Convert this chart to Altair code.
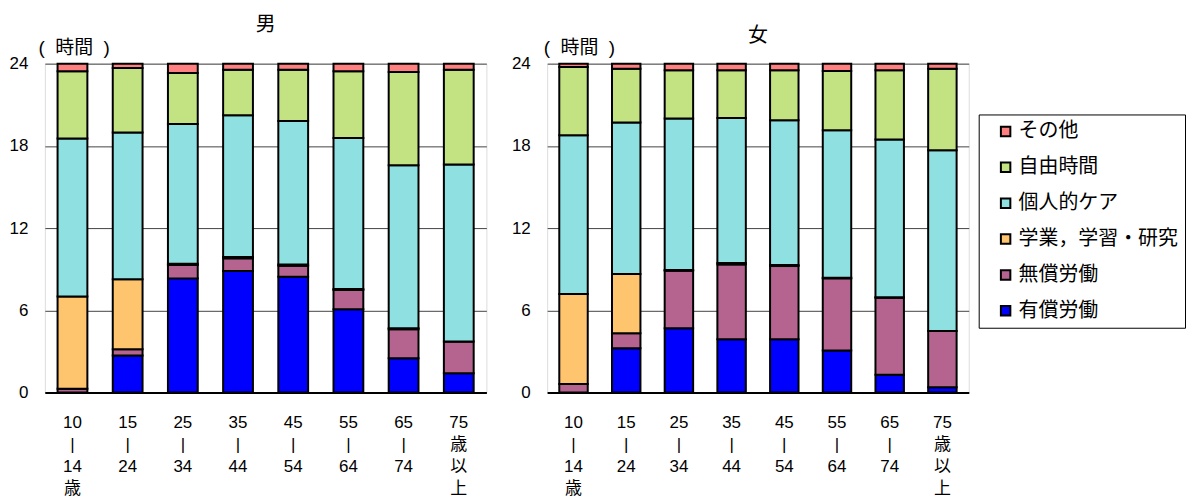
import altair as alt
import pandas as pd

# age-group tick labels (lines separated by "/")
ages = ["10/|/14/歳", "15/|/24", "25/|/34", "35/|/44", "45/|/54", "55/|/64", "65/|/74", "75/歳/以/上"]

# series, stacked from the bottom up
series = ["有償労働", "無償労働", "学業，学習・研究", "個人的ケア", "自由時間", "その他"]
colors = ["#0000FF", "#B4648F", "#FFC46E", "#8FE0E0", "#C3E282", "#FF8080"]

# 男 (hours per day)
m_paid     = [0.00, 2.70, 8.33, 8.87, 8.45, 6.07, 2.50, 1.41]
m_unpaid   = [0.27, 0.46, 0.97, 0.92, 0.80, 1.41, 2.12, 2.31]
m_study    = [6.73, 5.10, 0.10, 0.10, 0.10, 0.07, 0.07, 0.00]
m_personal = [11.53, 10.71, 10.20, 10.34, 10.47, 11.03, 11.90, 12.92]
m_free     = [4.91, 4.71, 3.72, 3.33, 3.74, 4.86, 6.80, 6.92]
m_other    = [0.56, 0.32, 0.68, 0.44, 0.44, 0.56, 0.61, 0.44]

# 女 (hours per day)
f_paid     = [0.00, 3.23, 4.69, 3.89, 3.89, 3.06, 1.29, 0.39]
f_unpaid   = [0.63, 1.09, 4.20, 5.46, 5.34, 5.27, 5.63, 4.10]
f_study    = [6.56, 4.33, 0.05, 0.10, 0.08, 0.05, 0.03, 0.00]
f_personal = [11.59, 11.05, 11.05, 10.59, 10.56, 10.76, 11.51, 13.19]
f_free     = [4.98, 3.93, 3.52, 3.47, 3.64, 4.32, 5.05, 5.95]
f_other    = [0.24, 0.37, 0.49, 0.49, 0.49, 0.54, 0.49, 0.37]

FONT = "Liberation Sans, Noto Sans CJK JP, sans-serif"
NB = "\u00a0"


def make_df(cols):
    rows = []
    for si, (name, vals) in enumerate(zip(series, cols)):
        for a, v in zip(ages, vals):
            rows.append({"age": a, "series": name, "idx": si, "value": v})
    return pd.DataFrame(rows)


def panel(df, title, title_offset, ytitle_x, width, show_legend):
    legend = None
    if show_legend:
        legend = alt.Legend(
            title=None, orient="none", legendX=937, legendY=51,
            labelFontSize=20, labelFont=FONT, labelColor="black",
            symbolType="square", symbolSize=90, symbolStrokeColor="black",
            symbolStrokeWidth=2, symbolOpacity=1, symbolOffset=10,
            rowPadding=16, padding=7, strokeColor="black", fillColor="white",
            labelOffset=3,
        )
    return alt.Chart(df).mark_bar(stroke="black", strokeWidth=2, opacity=1).encode(
        x=alt.X("age:N", sort=ages,
                scale=alt.Scale(paddingInner=0.46, paddingOuter=0.23),
                axis=alt.Axis(title=None, labelExpr="split(datum.label, '/')",
                              labelAngle=0, labelFontSize=17, labelFont=FONT,
                              labelLineHeight=22, labelBaseline="top",
                              labelPadding=22, ticks=False, domainColor="black",
                              domainWidth=2, labelColor="black", grid=False)),
        y=alt.Y("value:Q", stack="zero", scale=alt.Scale(domain=[0, 24], nice=False),
                axis=alt.Axis(values=[0, 6, 12, 18, 24],
                              title="(" + NB * 2 + "時間" + NB * 2 + ")", titleAngle=0,
                              titleAlign="left", titleBaseline="bottom",
                              titleX=ytitle_x, titleY=-6, titleFontSize=19,
                              titleFont=FONT, titleFontWeight="normal", titleColor="black",
                              labelFontSize=17, labelFont=FONT, labelColor="black",
                              labelPadding=17, ticks=False, domain=False,
                              grid=True, gridColor="#444444", gridWidth=1)),
        color=alt.Color("series:N",
                        scale=alt.Scale(domain=series[::-1], range=colors[::-1]),
                        legend=legend),
        order=alt.Order("idx:Q", sort="ascending"),
    ).properties(
        width=width, height=330,
        title=alt.TitleParams(title, fontSize=20, font=FONT, fontWeight="normal",
                              color="black", offset=title_offset, anchor="middle",
                              frame="group"),
    )


left = panel(make_df([m_paid, m_unpaid, m_study, m_personal, m_free, m_other]), "男", 4, -7, 443, True)
right = panel(make_df([f_paid, f_unpaid, f_study, f_personal, f_free, f_other]), "女", -7, -4, 423, False)

chart = alt.hconcat(left, right, spacing=23).properties(
    padding={"left": 0, "top": 5, "right": 0, "bottom": 0}
).configure_view(stroke="#A0A0A0", strokeWidth=2).configure(background="white")

chart.save("out.html", embed_options={"renderer": "svg", "actions": False})
